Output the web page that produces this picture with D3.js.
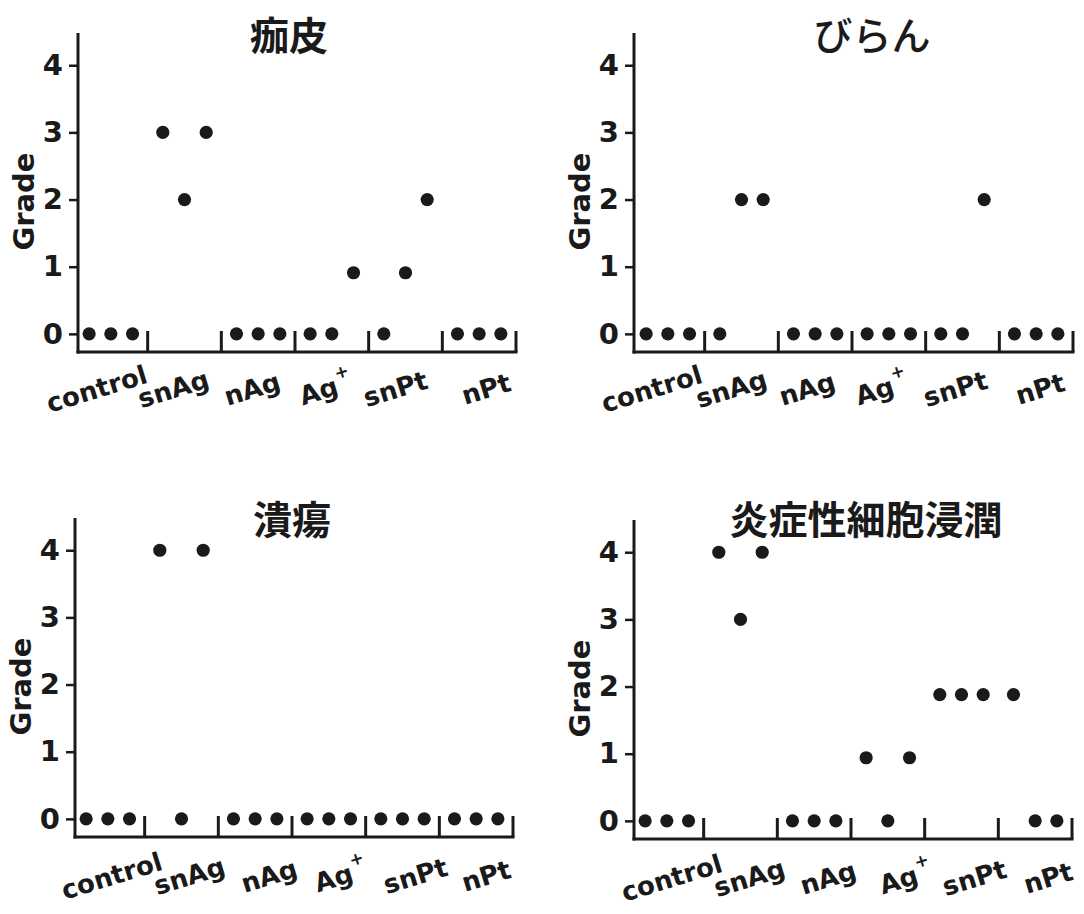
<!DOCTYPE html>
<html lang="ja">
<head>
<meta charset="utf-8">
<script src="https://cdn.jsdelivr.net/npm/d3@7"></script>
<style>
  html, body { margin: 0; padding: 0; background: #ffffff; }
  svg { display: block; }
  .tick-label, .axis-title, .cat-label { font-family: "DejaVu Sans", Verdana, sans-serif; font-weight: bold; fill: #1a1a1a; }
  .panel-title { font-family: "Noto Sans CJK JP", "Noto Sans CJK SC", sans-serif; fill: #1a1a1a; }
</style>
</head>
<body>
<svg id="chart" width="1084" height="914"></svg>
<script>
// Groups on the x axis and grade ticks on the y axis
const categories = ["control", "snAg", "nAg", "Ag+", "snPt", "nPt"];
const gradeTicks = [0, 1, 2, 3, 4];
const yLabel = "Grade";

// Panel titles
const panelTitles = ["痂皮", "びらん", "潰瘍", "炎症性細胞浸潤"];

// Individual grades, three animals per group
const crustGrades = [[0, 0, 0], [3, 2, 3], [0, 0, 0], [0, 0, 0.91], [0, 0.91, 2], [0, 0, 0]];
const erosionGrades = [[0, 0, 0], [0, 2, 2], [0, 0, 0], [0, 0, 0], [0, 0, 2], [0, 0, 0]];
const ulcerGrades = [[0, 0, 0], [4, 0, 4], [0, 0, 0], [0, 0, 0], [0, 0, 0], [0, 0, 0]];
const infiltrationGrades = [[0, 0, 0], [4, 3, 4], [0, 0, 0], [0.94, 0, 0.94], [1.88, 1.88, 1.88], [1.88, 0, 0]];

const panelGrades = [crustGrades, erosionGrades, ulcerGrades, infiltrationGrades];

// Placement of each panel on the page
const panelLayout = [
  { left: 74,  right: 516,  axisX: 78,  top: 33,  bottom: 352, titleX: 289, titleY: 33,  titleWeight: 700, labelDy: 37, labelDx: [-14, -11, -6, -6, -10, 7] },
  { left: 631, right: 1073, axisX: 634, top: 33,  bottom: 352, titleX: 872, titleY: 33,  titleWeight: 500, labelDy: 37, labelDx: [-16, -10, -8, -7, -7, 4] },
  { left: 71,  right: 513,  axisX: 75,  top: 518, bottom: 837, titleX: 292, titleY: 517, titleWeight: 700, labelDy: 39, labelDx: [4, 8, 14, 12, 13, 10] },
  { left: 630, right: 1072, axisX: 634, top: 520, bottom: 839, titleX: 866, titleY: 517, titleWeight: 700, labelDy: 39, labelDx: [5, 9, 14, 18, 13, 13] }
];

const ink = "#1a1a1a";
const svg = d3.select("#chart");

panelGrades.forEach((grades, i) => {
  const L = panelLayout[i];
  const g = svg.append("g");

  const x = d3.scaleBand().domain(categories).range([L.left, L.right]).paddingInner(0).paddingOuter(0);
  const bw = x.bandwidth();
  const slot = d3.scalePoint().domain([0, 1, 2]).range([bw / 2 - 21.7, bw / 2 + 21.7]);
  const y = d3.scaleLinear().domain([-0.27, 4.48]).range([L.bottom, L.top]);

  // y axis with outward ticks
  const yAxis = d3.axisLeft(y).tickValues(gradeTicks).tickSize(9).tickPadding(6).tickFormat(d3.format("d"));
  const yG = g.append("g").attr("transform", `translate(${L.axisX},0)`).call(yAxis);
  yG.select(".domain").remove();
  yG.selectAll(".tick line").attr("stroke", ink).attr("stroke-width", 2.5);
  yG.selectAll(".tick text").attr("class", "tick-label").attr("font-size", 29).attr("fill", ink);
  g.append("line")
    .attr("x1", L.axisX).attr("x2", L.axisX)
    .attr("y1", y.range()[1]).attr("y2", y.range()[0] + 1.5)
    .attr("stroke", ink).attr("stroke-width", 3);

  // x axis with group separators pointing up
  g.append("line")
    .attr("x1", L.axisX - 1.5).attr("x2", L.right + 1.5)
    .attr("y1", L.bottom).attr("y2", L.bottom)
    .attr("stroke", ink).attr("stroke-width", 3);
  g.selectAll(".sep").data(categories).join("line")
    .attr("class", "sep")
    .attr("x1", d => x(d) + bw).attr("x2", d => x(d) + bw)
    .attr("y1", L.bottom).attr("y2", L.bottom - 21)
    .attr("stroke", ink).attr("stroke-width", 3);

  // rotated group labels
  const labels = g.selectAll(".cat-label").data(categories).join("text")
    .attr("class", "cat-label")
    .attr("font-size", 26)
    .attr("text-anchor", "middle")
    .attr("dominant-baseline", "central")
    .attr("transform", (d, k) => `translate(${x(d) + bw / 2 + L.labelDx[k]},${L.bottom + L.labelDy}) rotate(-17)`);
  labels.each(function (d) {
    const t = d3.select(this);
    if (d.endsWith("+")) {
      t.append("tspan").text(d.slice(0, -1));
      t.append("tspan").text("+").attr("font-size", 17).attr("dx", 1).attr("dy", -12);
    } else {
      t.text(d);
    }
  });

  // y axis title
  const yMid = y(2) + 2;
  g.append("text")
    .attr("class", "axis-title")
    .attr("font-size", 29)
    .attr("text-anchor", "middle")
    .attr("dominant-baseline", "central")
    .attr("transform", `translate(${L.axisX - 54},${yMid}) rotate(-90)`)
    .text(yLabel);

  // panel title
  g.append("text")
    .attr("class", "panel-title")
    .attr("font-size", 39)
    .attr("font-weight", L.titleWeight)
    .attr("text-anchor", "middle")
    .attr("dominant-baseline", "central")
    .attr("x", L.titleX).attr("y", L.titleY)
    .text(panelTitles[i]);

  // individual dots
  const pts = [];
  grades.forEach((vals, k) => vals.forEach((v, j) => pts.push({ cat: categories[k], j, v })));
  g.selectAll(".dot").data(pts).join("circle")
    .attr("class", "dot")
    .attr("cx", d => x(d.cat) + slot(d.j))
    .attr("cy", d => y(d.v))
    .attr("r", 6.6)
    .attr("fill", ink);
});
</script>
</body>
</html>
